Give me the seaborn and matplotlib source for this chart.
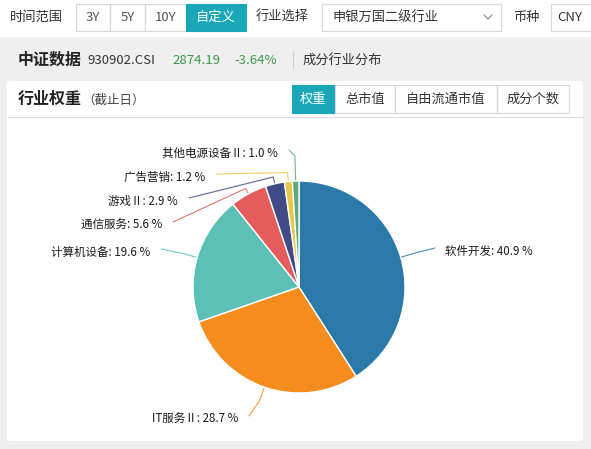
import matplotlib
matplotlib.use("Agg")
import matplotlib.pyplot as plt
import matplotlib.patches as mpatches
import numpy as np
import seaborn as sns

# data
industries = ["软件开发", "IT服务Ⅱ", "计算机设备", "通信服务", "游戏Ⅱ", "广告营销", "其他电源设备Ⅱ"]
weights = [40.9, 28.7, 19.6, 5.6, 2.9, 1.2, 1.0]
slice_colors = ["#2a79a8", "#f48d1d", "#5cc0b6", "#e45c5b", "#414c86", "#e8c84c", "#5da97c"]

index_name = "中证数据"
index_code = "930902.CSI"
index_close = "2874.19"
index_change = "-3.64%"
range_buttons = ["3Y", "5Y", "10Y", "自定义"]
metric_tabs = ["权重", "总市值", "自由流通市值", "成分个数"]

# layout (pixels)
cx, cy, r = 299, 287, 106
# label anchor (x, y, ha) and radial length of first leader segment
label_pos = [(445, 251, "left"), (238, 419, "right"), (150, 252, "right"),
             (162, 225, "right"), (178, 201, "right"), (205, 177, "right"),
             (278, 153, "right")]
bend_len = [14, 14, 14, 6, 7, 9, 25]

sns.set_theme(style="white")
plt.rcParams["font.family"] = ["Noto Sans CJK SC", "DejaVu Sans"]

W, H = 591, 449
fig = plt.figure(figsize=(W / 100, H / 100), dpi=100)
fig.patch.set_facecolor("#efefef")
bg = fig.add_axes([0, 0, 1, 1])
bg.set_xlim(0, W)
bg.set_ylim(H, 0)
bg.axis("off")

teal = "#1aa8b8"
border = "#d6d6d6"
txt = "#333333"

# top bar
bg.add_patch(mpatches.Rectangle((0, 0), W, 36, color="white", zorder=0))
bg.text(10, 17, "时间范围", fontsize=9.5, color=txt, va="center")
edges = [76, 110, 145, 186, 246]
for i, lab in enumerate(range_buttons):
    x0, x1 = edges[i], edges[i + 1]
    active = lab == "自定义"
    bg.add_patch(mpatches.Rectangle((x0, 4), x1 - x0, 27, facecolor=teal if active else "white",
                                    edgecolor=teal if active else border, lw=0.8))
    bg.text((x0 + x1) / 2, 17.5, lab, fontsize=9.5, color="white" if active else "#555555",
            ha="center", va="center")
bg.text(256, 17, "行业选择", fontsize=9.5, color=txt, va="center")
bg.add_patch(mpatches.Rectangle((322, 4), 179, 27, facecolor="white", edgecolor=border, lw=0.8))
bg.text(332, 17.5, "申银万国二级行业", fontsize=9.5, color=txt, va="center")
bg.plot([484, 488, 492], [15, 19, 15], color="#888888", lw=0.8)
bg.text(513, 17, "币种", fontsize=9.5, color=txt, va="center")
bg.add_patch(mpatches.Rectangle((551, 4), 60, 27, facecolor="white", edgecolor=border, lw=0.8))
bg.text(557, 17.5, "CNY", fontsize=9.5, color=txt, va="center")

# index row
bg.text(18, 60, index_name, fontsize=11.5, fontweight="bold", color="#222222", va="center")
bg.text(87, 60, index_code, fontsize=9.5, color=txt, va="center")
bg.text(172, 60, index_close, fontsize=9.5, color="#3b9a4a", va="center")
bg.text(234, 60, index_change, fontsize=9.5, color="#3b9a4a", va="center")
bg.plot([293, 293], [52, 68], color="#cccccc", lw=0.8)
bg.text(303, 60, "成分行业分布", fontsize=9.5, color=txt, va="center")

# card
bg.add_patch(mpatches.FancyBboxPatch((7, 81), 576, 360, boxstyle="round,pad=0,rounding_size=3",
                                     facecolor="white", edgecolor="none", zorder=0))
bg.text(18, 99, "行业权重", fontsize=11.5, fontweight="bold", color="#222222", va="center")
bg.text(82, 100, "（截止日）", fontsize=9, color="#444444", va="center")
tab_edges = [292, 335, 395, 497, 569]
for i, lab in enumerate(metric_tabs):
    x0, x1 = tab_edges[i], tab_edges[i + 1]
    active = i == 0
    bg.add_patch(mpatches.Rectangle((x0, 85), x1 - x0, 28, facecolor=teal if active else "white",
                                    edgecolor=teal if active else border, lw=0.8))
    bg.text((x0 + x1) / 2, 99.5, lab, fontsize=9.5, color="white" if active else txt,
            ha="center", va="center")
bg.plot([7, 583], [117, 117], color="#dddddd", lw=0.8)

# pie
pax = fig.add_axes([(cx - r) / W, (H - cy - r) / H, 2 * r / W, 2 * r / H])
wedges, _ = pax.pie(weights, colors=sns.color_palette(slice_colors), startangle=90,
                    counterclock=False, radius=1,
                    wedgeprops=dict(edgecolor="white", linewidth=1))
pax.set_xlim(-1, 1)
pax.set_ylim(-1, 1)

for w, name, val, col, (lx, ly, ha), bl in zip(wedges, industries, weights, slice_colors,
                                               label_pos, bend_len):
    ang = np.deg2rad((w.theta1 + w.theta2) / 2)
    ex, ey = cx + r * np.cos(ang), cy - r * np.sin(ang)
    bx, by = cx + (r + bl) * np.cos(ang), cy - (r + bl) * np.sin(ang)
    endx = lx - 10 if ha == "left" else lx + 11
    endy = ly - 3
    bg.plot([ex, bx, endx], [ey, by, endy], color=col, lw=0.8, alpha=0.85, zorder=1)
    bg.text(lx, ly, f"{name}: {val:.1f} %", fontsize=8.3, fontweight="medium", color="#1a1a1a",
            ha=ha, va="center", zorder=3)

fig.savefig("out.png", dpi=100, facecolor=fig.get_facecolor())
